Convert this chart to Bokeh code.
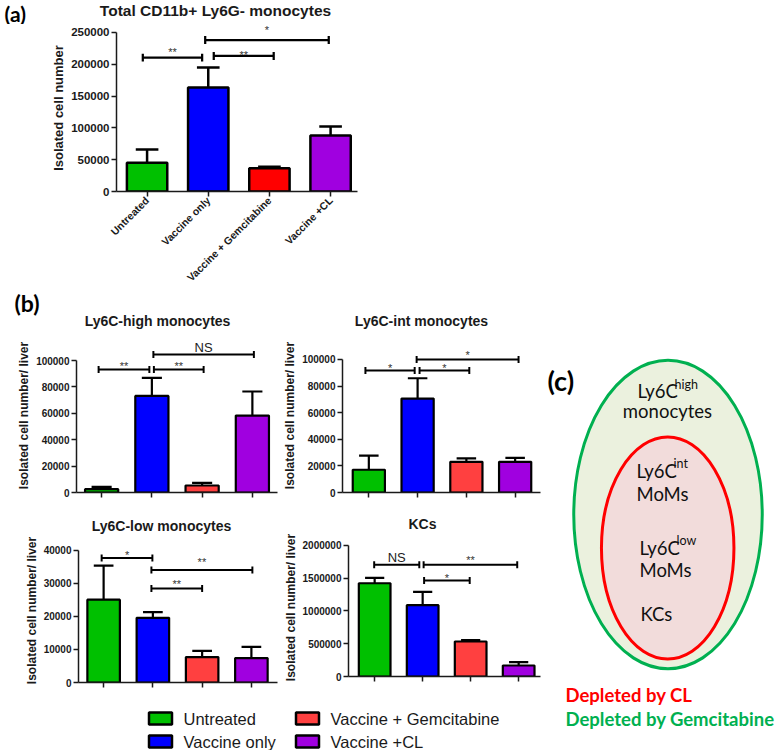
import math
from bokeh.plotting import figure
from bokeh.models import Range1d, FixedTicker, NumeralTickFormatter, ColumnDataSource
from bokeh.layouts import column, row
from bokeh.embed import file_html
from bokeh.resources import INLINE
from bokeh.core.properties import value

# ---------------- data ----------------
groups = ["Untreated", "Vaccine only", "Vaccine + Gemcitabine", "Vaccine +CL"]
group_pos = [0.5, 1.5, 2.5, 3.5]
colors_a = ["#00c000", "#0000ff", "#ff0000", "#a000e0"]
colors_b = ["#00c000", "#0000ff", "#ff4040", "#a000e0"]

# (a) Total CD11b+ Ly6G- monocytes
a_mean = [45000, 163500, 36500, 88000]
a_upper = [66000, 195000, 39000, 102000]
a_ticks = [0, 50000, 100000, 150000, 200000, 250000]
a_sig_x0 = [0.43, 1.59, 1.45]
a_sig_x1 = [1.40, 2.57, 3.47]
a_sig_y = [210400, 213000, 238000]
a_sig_ty = [223400, 219200, 258900]
a_sig_text = ["**", "**", "*"]

# (b) Ly6C-high monocytes
hi_mean = [2500, 73200, 5300, 58300]
hi_upper = [4200, 86900, 7300, 76500]
hi_ticks = [0, 20000, 40000, 60000, 80000, 100000]
hi_sig_x0 = [0.44, 1.54, 1.53]
hi_sig_x1 = [1.45, 2.53, 3.53]
hi_sig_y = [93200, 93200, 104500]
hi_sig_ty = [98000, 98000, 110000]
hi_sig_text = ["**", "**", "NS"]

# (b) Ly6C-int monocytes
int_mean = [17100, 70600, 23100, 23100]
int_upper = [27700, 85900, 25600, 26100]
int_ticks = [0, 20000, 40000, 60000, 80000, 100000]
int_sig_x0 = [0.43, 1.54, 1.48]
int_sig_x1 = [1.44, 2.56, 3.57]
int_sig_y = [91700, 91700, 100000]
int_sig_ty = [95500, 95500, 106000]
int_sig_text = ["*", "*", "*"]

# (b) Ly6C-low monocytes
low_mean = [25100, 19600, 7700, 7400]
low_upper = [35400, 21300, 9600, 10800]
low_ticks = [0, 10000, 20000, 30000, 40000]
low_sig_x0 = [0.46, 1.47, 1.47]
low_sig_x1 = [1.49, 3.52, 2.50]
low_sig_y = [37700, 34100, 28500]
low_sig_ty = [39480, 37480, 30890]
low_sig_text = ["*", "**", "**"]

# (b) KCs
kc_mean = [1424000, 1089000, 534000, 168000]
kc_upper = [1507000, 1293000, 554000, 218000]
kc_ticks = [0, 500000, 1000000, 1500000, 2000000]
kc_sig_x0 = [0.49, 1.52, 1.53]
kc_sig_x1 = [1.43, 3.47, 2.48]
kc_sig_y = [1705000, 1705000, 1466000]
kc_sig_ty = [1812000, 1821000, 1542000]
kc_sig_text = ["NS", "**", "*"]

ARIAL = "Liberation Sans"
CAL = "Lato"

# ---------------- geometry (page px, origin top-left) ----------------
GA = dict(left=0, top=24, w=520, h=266, fl=116, fr=357, ft=24, fb=192, x0=0, x1=3.94, y0=0, y1=262500)
GB1 = dict(left=0, top=338, w=280, h=167, fl=76, fr=277, ft=338, fb=492, x0=0, x1=4.0, y0=0, y1=116667)
GB2 = dict(left=280, top=338, w=265, h=167, fl=338, fr=540, ft=338, fb=492, x0=-0.04, x1=4.02, y0=0, y1=115789)
GB3 = dict(left=0, top=534, w=280, h=161, fl=78, fr=277, ft=538, fb=682, x0=-0.01, x1=4.03, y0=0, y1=43636)
GB4 = dict(left=280, top=534, w=265, h=161, fl=342, fr=540, ft=538, fb=676, x0=-0.045, x1=3.955, y0=0, y1=2106870)


def panel(G, means, upper, colors, ticks, sx0, sx1, sy, sty, stext, ylabel,
          tick_size, ylabel_size, lw, bar_w, cap_w, tick_px, xlabels=False):
    p = figure(width=G['w'], height=G['h'],
               x_range=Range1d(G['x0'], G['x1']), y_range=Range1d(G['y0'], G['y1']),
               output_backend="svg", toolbar_location=None,
               min_border_left=G['fl'] - G['left'],
               min_border_right=G['left'] + G['w'] - G['fr'],
               min_border_top=G['ft'] - G['top'],
               min_border_bottom=G['top'] + G['h'] - G['fb'])
    p.frame_align = False
    p.outline_line_color = None
    p.grid.visible = False
    p.background_fill_color = "white"
    p.border_fill_color = "white"

    src = ColumnDataSource(dict(x=group_pos, top=means, up=upper, color=colors,
                                cl=[v - cap_w / 2 for v in group_pos],
                                cr=[v + cap_w / 2 for v in group_pos]))
    p.segment(x0="x", y0="top", x1="x", y1="up", source=src, line_color="black", line_width=lw)
    p.segment(x0="cl", y0="up", x1="cr", y1="up", source=src, line_color="black", line_width=lw)
    p.vbar(x="x", top="top", width=bar_w, source=src, fill_color="color",
           line_color="black", line_width=lw)

    th = tick_px * (G['y1'] - G['y0']) / (G['fb'] - G['ft'])
    p.segment(x0=sx0, y0=sy, x1=sx1, y1=sy, line_color="black", line_width=lw * 0.9)
    p.segment(x0=sx0, y0=[v - th / 2 for v in sy], x1=sx0, y1=[v + th / 2 for v in sy],
              line_color="black", line_width=lw * 0.9)
    p.segment(x0=sx1, y0=[v - th / 2 for v in sy], x1=sx1, y1=[v + th / 2 for v in sy],
              line_color="black", line_width=lw * 0.9)
    cx = [(a + b) / 2 for a, b in zip(sx0, sx1)]
    stars = [i for i, t in enumerate(stext) if t != "NS"]
    ns = [i for i, t in enumerate(stext) if t == "NS"]
    if stars:
        p.text(x=[cx[i] for i in stars], y=[sty[i] for i in stars], text=[stext[i] for i in stars],
               text_font=value(ARIAL), text_font_size="11px", text_color="#333333",
               text_align="center", text_baseline="middle", y_offset=3)
    if ns:
        p.text(x=[cx[i] for i in ns], y=[sty[i] for i in ns], text=[stext[i] for i in ns],
               text_font=value(ARIAL), text_font_size="13px", text_color="#222222",
               text_align="center", text_baseline="middle")

    for ax in (p.xaxis[0], p.yaxis[0]):
        ax.axis_line_width = 1.5
        ax.axis_line_color = "#1a1a1a"
        ax.major_tick_line_width = 1.5
        ax.major_tick_line_color = "#1a1a1a"
        ax.major_tick_out = 5
        ax.major_tick_in = 0
        ax.minor_tick_line_color = None
        ax.major_label_text_font = ARIAL
        ax.major_label_text_font_style = "bold"
        ax.major_label_text_color = "#1a1a1a"

    ya = p.yaxis[0]
    ya.ticker = FixedTicker(ticks=ticks)
    ya.formatter = NumeralTickFormatter(format="0")
    ya.bounds = (0, ticks[-1])
    ya.major_label_text_font_size = tick_size
    ya.major_label_standoff = 2
    ya.axis_label = ylabel
    ya.axis_label_text_font = ARIAL
    ya.axis_label_text_font_style = "bold"
    ya.axis_label_text_font_size = ylabel_size
    ya.axis_label_text_color = "#1a1a1a"
    ya.axis_label_standoff = 2

    xa = p.xaxis[0]
    xa.ticker = FixedTicker(ticks=group_pos)
    if xlabels:
        xa.major_label_overrides = {v: g for v, g in zip(group_pos, groups)}
        xa.major_label_orientation = math.pi / 4
        xa.major_label_text_font_size = "10.5px"
        xa.major_label_standoff = 2
    else:
        xa.major_label_overrides = {v: "" for v in group_pos}
        xa.major_label_text_font_size = "0px"
        xa.major_label_standoff = 0
    return p


def strip(left, top, w, h):
    s = figure(width=w, height=h, x_range=Range1d(left, left + w), y_range=Range1d(-(top + h), -top),
               output_backend="svg", toolbar_location=None, min_border=0,
               x_axis_type=None, y_axis_type=None)
    s.frame_align = False
    s.outline_line_color = None
    s.grid.visible = False
    s.background_fill_color = "white"
    s.border_fill_color = "white"
    return s


def put(s, px, py, text, font, size, style="bold", align="center", color="#1a1a1a"):
    # strips use negated page y, so text keeps its page position
    s.text(x=[px], y=[-py], text=[text], text_font=value(font), text_font_size=size,
           text_font_style=style, text_align=align, text_baseline="middle", text_color=color)


# ---------------- (a) ----------------
sa = strip(0, 0, 520, 24)
put(sa, 4, 12.5, "(a)", CAL, "21px", align="left", color="black")
put(sa, 215, 10, "Total CD11b+ Ly6G- monocytes", ARIAL, "15.5px")
pa = panel(GA, a_mean, a_upper, colors_a, a_ticks, a_sig_x0, a_sig_x1, a_sig_y, a_sig_ty, a_sig_text,
           "Isolated cell number", "11.5px", "13px", 2.5, 0.66, 0.37, 8, xlabels=True)
top_part = column(sa, pa)

# ---------------- (b) ----------------
pb1 = panel(GB1, hi_mean, hi_upper, colors_b, hi_ticks, hi_sig_x0, hi_sig_x1, hi_sig_y, hi_sig_ty, hi_sig_text,
            "Isolated cell number/ liver", "10px", "12px", 2.2, 0.66, 0.40, 7)
pb2 = panel(GB2, int_mean, int_upper, colors_b, int_ticks, int_sig_x0, int_sig_x1, int_sig_y, int_sig_ty, int_sig_text,
            "Isolated cell number/ liver", "10px", "12px", 2.2, 0.66, 0.40, 7)
pb3 = panel(GB3, low_mean, low_upper, colors_b, low_ticks, low_sig_x0, low_sig_x1, low_sig_y, low_sig_ty, low_sig_text,
            "Isolated cell number/ liver", "10px", "12px", 2.2, 0.66, 0.40, 7)
pb4 = panel(GB4, kc_mean, kc_upper, colors_b, kc_ticks, kc_sig_x0, kc_sig_x1, kc_sig_y, kc_sig_ty, kc_sig_text,
            "Isolated cell number/ liver", "10px", "12px", 2.2, 0.66, 0.40, 7)

sb1 = strip(0, 290, 545, 48)
put(sb1, 14, 302.5, "(b)", CAL, "23px", align="left", color="black")
put(sb1, 157, 320, "Ly6C-high monocytes", ARIAL, "14px")
put(sb1, 421, 320, "Ly6C-int monocytes", ARIAL, "14px")
sb2 = strip(0, 505, 545, 29)
put(sb2, 161, 525, "Ly6C-low monocytes", ARIAL, "14px")
put(sb2, 422, 523, "KCs", ARIAL, "14px")

# ---------------- legend ----------------
sl = strip(0, 695, 545, 55)
leg_x = [160, 160, 307, 307]
leg_y = [-718, -741, -718, -741]
sl.rect(x=leg_x, y=leg_y, width=23, height=12, fill_color=colors_b, line_color="black", line_width=2.5)
sl.text(x=[v + 23 for v in leg_x], y=leg_y, text=groups, text_font=value(ARIAL),
        text_font_size="16.5px", text_color="#1a1a1a", text_baseline="middle", text_align="left")

# ---------------- (c) diagram ----------------
pc = strip(545, 290, 233, 460)
pc.ellipse(x=[667.5], y=[-514], width=[188.5], height=[308.5],
           fill_color="#ebf1de", line_color="#00b050", line_width=3)
pc.ellipse(x=[667.2], y=[-547.5], width=[132.5], height=[222],
           fill_color="#f2dcdb", line_color="#ff0000", line_width=3)

main_txt = ["Ly6C", "monocytes", "Ly6C", "MoMs", "Ly6C", "MoMs", "KCs"]
main_px = [637, 667, 636, 636, 639, 639, 640]
main_py = [390, 410, 470, 493, 547, 569, 613]
main_al = ["left", "center", "left", "left", "left", "left", "left"]
pc.text(x=main_px, y=[-v for v in main_py], text=main_txt, text_font=value(CAL),
        text_font_size="18.5px", text_color="#111111", text_align=main_al, text_baseline="middle")
sup_txt = ["high", "int", "low"]
sup_px = [674, 673, 676]
sup_py = [384, 463, 540]
pc.text(x=sup_px, y=[-v for v in sup_py], text=sup_txt,
        text_font=value(CAL), text_font_size="12.5px", text_color="#111111",
        text_align="left", text_baseline="middle")
put(pc, 547, 380, "(c)", CAL, "27px", align="left", color="black")
put(pc, 565, 694, "Depleted by CL", CAL, "18.5px", color="#ff0000", align="left")
put(pc, 565, 718, "Depleted by Gemcitabine", CAL, "18.5px", color="#00b050", align="left")

mid_left = column(sb1, row(pb1, pb2), sb2, row(pb3, pb4), sl)
layout = column(top_part, row(mid_left, pc))

open("out.html", "w").write(file_html(layout, INLINE))
